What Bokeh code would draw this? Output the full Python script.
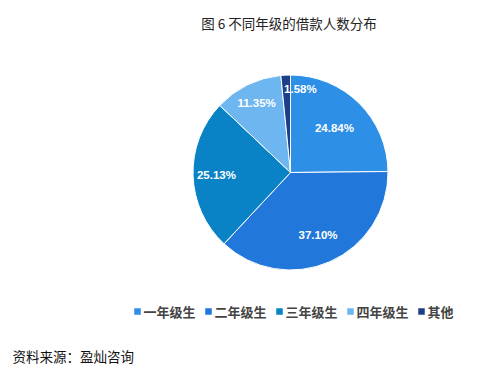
import math
from bokeh.plotting import figure
from bokeh.models import Range1d, ColumnDataSource
from bokeh.core.properties import value
from bokeh.embed import file_html
from bokeh.resources import INLINE

title_text = "图 6  不同年级的借款人数分布"
source_text = "资料来源：盈灿咨询"
categories = ["一年级生", "二年级生", "三年级生", "四年级生", "其他"]
shares = [24.84, 37.10, 25.13, 11.35, 1.58]
labels = ["24.84%", "37.10%", "25.13%", "11.35%", "1.58%"]
colors = ["#2E8FE6", "#2277DA", "#0A82C6", "#6DB6F0", "#1D3F8A"]

W, H = 488, 368
p = figure(width=W, height=H, output_backend="svg", toolbar_location=None,
           x_range=Range1d(0, W), y_range=Range1d(0, H), min_border=0)
p.axis.visible = False
p.grid.visible = False
p.outline_line_color = None
p.background_fill_color = "white"
p.border_fill_color = "white"

cx, cy, R = 290, H - 172, 97.5
total = sum(shares)
starts, ends, mids = [], [], []
acc = 0.0
for s in shares:
    a0 = math.pi / 2 - acc / total * 2 * math.pi
    acc += s
    a1 = math.pi / 2 - acc / total * 2 * math.pi
    starts.append(a0)
    ends.append(a1)
    mids.append((a0 + a1) / 2)

src = ColumnDataSource(dict(start=starts, end=ends, color=colors))
p.wedge(x=cx, y=cy, radius=R, start_angle="start", end_angle="end",
        direction="clock", fill_color="color", line_color="white",
        line_width=1, source=src)

# label placement (layout)
rfrac = [0.64, 0.70, 0.76, 0.79, 0.86]
dx_adj = [0, 0, 0, 0, 14]
lx = [cx + R * f * math.cos(m) + d for f, m, d in zip(rfrac, mids, dx_adj)]
ly = [cy + R * f * math.sin(m) for f, m in zip(rfrac, mids)]
p.text(x=lx, y=ly, text=labels, text_color="white", text_font=value("Liberation Sans"),
       text_font_style="bold", text_font_size="11.5px", text_align="center",
       text_baseline="middle")

# title
p.text(x=[290], y=[H - 22], text=[title_text], text_font=value("Noto Sans CJK SC"),
       text_font_size="13.5px", text_color="#222222", text_align="center",
       text_baseline="middle")

# legend
leg_y = H - 311
xs, tx = [], []
x = 137
for c in categories:
    xs.append(x)
    tx.append(x + 6)
    x += 19 + 13 * len(c)
p.scatter(x=xs, y=[leg_y] * len(xs), marker="square", size=6.5, fill_color=colors,
          line_color=None)
p.text(x=tx, y=[leg_y] * len(tx), text=categories, text_font=value("Noto Sans CJK SC"),
       text_font_size="13px", text_font_style="bold", text_color="#444444",
       text_align="left", text_baseline="middle")

# source
p.text(x=[12], y=[H - 355], text=[source_text], text_font=value("Noto Sans CJK SC"),
       text_font_size="13.5px", text_color="#111111", text_align="left",
       text_baseline="middle")

open("out.html", "w").write(file_html(p, INLINE))
